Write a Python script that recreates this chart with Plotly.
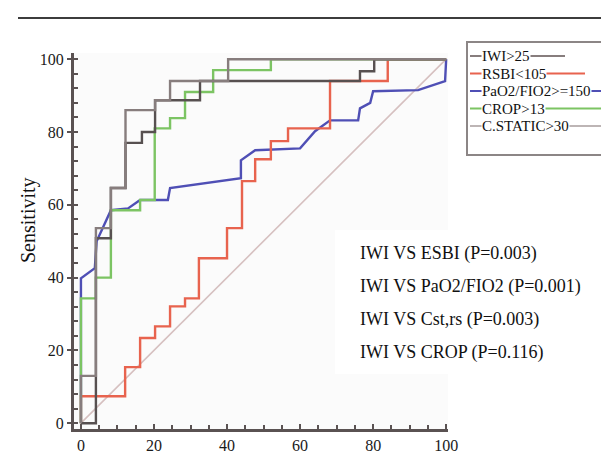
import plotly.graph_objects as go

# ---------------- data ----------------
x_ticks = [0, 20, 40, 60, 80, 100]
y_ticks = [0, 20, 40, 60, 80, 100]

iwi_fpr = [0, 0, 4.1, 4.1, 8.2, 8.2, 12.2, 12.2, 20.3, 20.3, 24.4, 24.4, 40.3, 40.3, 100]
iwi_sens = [0, 13, 13, 53.6, 53.6, 64.6, 64.6, 86, 86, 88.7, 88.7, 94, 94, 100, 100]

rsbi_fpr = [0, 0, 12.1, 12.1, 16.2, 16.2, 20.3, 20.3, 24.4, 24.4, 28.5, 28.5, 32.3, 32.3,
            40, 40, 44.1, 44.1, 47.7, 47.7, 52, 52, 56.7, 56.7, 68.2, 68.2, 84, 84, 100]
rsbi_sens = [0, 7.4, 7.4, 15.4, 15.4, 23.4, 23.4, 26.6, 26.6, 32.1, 32.1, 34.3, 34.3, 45.3,
             45.3, 53.6, 53.6, 66.5, 66.5, 72.5, 72.5, 77.5, 77.5, 81, 81, 94, 94, 100, 100]

pao2_fpr = [0, 0, 3.8, 4.3, 8.2, 12.9, 16.2, 23.8, 24.4, 43.8, 43.8, 47.7, 60, 64.1,
            68.2, 75.9, 76.4, 79.2, 80, 92.3, 99.7, 100]
pao2_sens = [0, 39.8, 42.6, 50, 58.5, 59, 61.3, 61.3, 64.6, 67.3, 72.2, 75, 75.5, 80.2,
             83.2, 83.2, 86.5, 88, 91.2, 91.5, 94, 100]

crop_fpr = [0, 0, 4.1, 4.1, 8.2, 8.2, 16.2, 16.2, 20.2, 20.2, 24.4, 24.4, 28.5, 28.5,
            36.2, 36.2, 52, 52, 100]
crop_sens = [0, 34.3, 34.3, 40, 40, 58.5, 58.5, 61.3, 61.3, 81, 81, 83.8, 83.8, 91,
             91, 97, 97, 100, 100]

cstatic_fpr = [0, 4.1, 4.1, 8.2, 8.2, 12.2, 12.2, 16.7, 16.7, 20.3, 20.3, 32.6, 32.6,
               76.4, 76.4, 80.3, 80.3, 100]
cstatic_sens = [0, 0, 50.8, 50.8, 64.6, 64.6, 77, 77, 80, 80, 88.7, 88.7, 94, 94,
                96.7, 96.7, 100, 100]

diag_fpr = [0, 100]
diag_sens = [0, 100]

legend_labels = ["IWI>25", "RSBI<105", "PaO2/FIO2>=150", "CROP>13", "C.STATIC>30"]
pvalue_lines = ["IWI VS ESBI (P=0.003)", "IWI VS PaO2/FIO2 (P=0.001)",
                "IWI VS Cst,rs (P=0.003)", "IWI VS CROP (P=0.116)"]
y_title = "Sensitivity"

# ---------------- styling ----------------
C_IWI = "#877d7d"
C_RSBI = "#e8634e"
C_PAO2 = "#4f4fb5"
C_CROP = "#7cc463"
C_CST = "#575050"
C_DIAG = "#d6c0c0"
FONT = "Liberation Serif"

W, H = 609, 457
PL, PR, PT, PB = 66, 440, 45, 421


def px(x):
    return (x - PL) / (PR - PL)


def py(y):
    return (PB - y) / (PB - PT)


fig = go.Figure()
fig.add_trace(go.Scatter(x=diag_fpr, y=diag_sens, mode="lines",
                         line=dict(color=C_DIAG, width=1.6), hoverinfo="skip"))
for xs, ys, col in [(pao2_fpr, pao2_sens, C_PAO2), (rsbi_fpr, rsbi_sens, C_RSBI),
                    (crop_fpr, crop_sens, C_CROP), (cstatic_fpr, cstatic_sens, C_CST),
                    (iwi_fpr, iwi_sens, C_IWI)]:
    fig.add_trace(go.Scatter(x=xs, y=ys, mode="lines",
                             line=dict(color=col, width=2.4), hoverinfo="skip"))

shapes = []
annotations = []

# top rule
shapes.append(dict(type="line", xref="paper", yref="paper", x0=px(10), x1=px(609),
                   y0=py(10), y1=py(10), line=dict(color="#3c3c3c", width=2)))

# white box behind the p-value text
shapes.append(dict(type="rect", xref="paper", yref="paper", x0=px(327), x1=px(600),
                   y0=py(366), y1=py(222), fillcolor="white", line=dict(width=0),
                   layer="below"))

# legend box
shapes.append(dict(type="rect", xref="paper", yref="paper", x0=px(459), x1=px(604),
                   y0=py(147), y1=py(34), line=dict(color="#8c8686", width=2),
                   fillcolor="rgba(0,0,0,0)"))
leg_cols = [C_IWI, C_RSBI, C_PAO2, C_CROP, "#bdb5b5"]
leg_y = [48, 65.5, 83, 100.5, 118]
leg_end = [557, 577, 604, 594, 597]
for lab, col, yy, xe in zip(legend_labels, leg_cols, leg_y, leg_end):
    shapes.append(dict(type="line", xref="paper", yref="paper", x0=px(462), x1=px(xe),
                       y0=py(yy), y1=py(yy), line=dict(color=col, width=2)))
    annotations.append(dict(text=lab, xref="paper", yref="paper", x=px(473), y=py(yy),
                            xanchor="left", yanchor="middle", showarrow=False,
                            font=dict(family=FONT, size=15, color="#111111"),
                            bgcolor="white", borderpad=0))

# p-value annotations
for i, t in enumerate(pvalue_lines):
    annotations.append(dict(text=t, xref="paper", yref="paper", x=px(350),
                            y=py(245 + 33 * i), xanchor="left", yanchor="middle",
                            showarrow=False,
                            font=dict(family=FONT, size=18, color="#111111")))

# y-axis title
annotations.append(dict(text=y_title, xref="paper", yref="paper", x=px(20), y=py(212),
                        xanchor="center", yanchor="middle", showarrow=False, textangle=-90,
                        font=dict(family=FONT, size=20, color="#111111")))

axis_common = dict(showgrid=False, zeroline=False, showline=True, linewidth=3,
                   linecolor="#5a5252", tickwidth=2, tickcolor="#5a5252",
                   tickfont=dict(family=FONT, size=16, color="#1a1a1a"))

fig.update_layout(
    width=W, height=H,
    margin=dict(l=PL, r=W - PR, t=PT, b=H - PB),
    paper_bgcolor="white", plot_bgcolor="#fbfbfb",
    showlegend=False,
    shapes=shapes, annotations=annotations,
    xaxis=dict(range=[-1.9, 100.5], tickvals=x_ticks, ticks="inside", ticklen=5,
               minor=dict(dtick=5, ticks="inside", ticklen=4, tickcolor="#5a5252", tickwidth=1.5),
               **axis_common),
    yaxis=dict(range=[-1.6, 101.7], tickvals=y_ticks, ticks="outside", ticklen=4,
               minor=dict(dtick=4, ticks="inside", ticklen=4, tickcolor="#5a5252", tickwidth=1.5),
               **axis_common),
)

fig.write_html("out.html")
